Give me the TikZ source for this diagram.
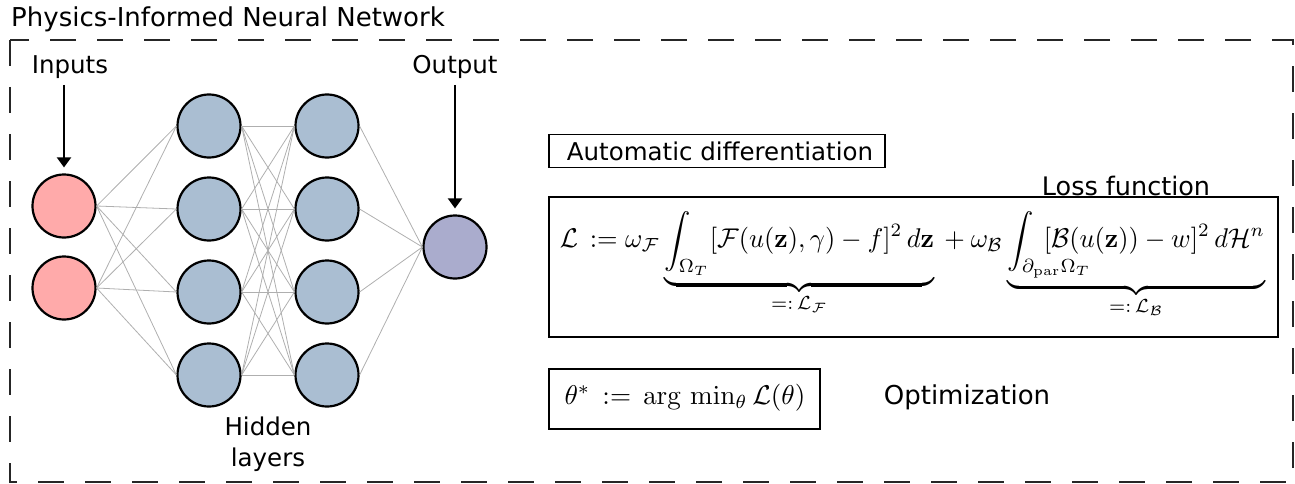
\documentclass[tikz,border=0pt]{standalone}
\usepackage[no-math]{fontspec}
\usepackage{amsmath}
\usepackage{mathtools}
\usepackage{graphicx}
\usetikzlibrary{arrows.meta}
\newfontfamily\dv{DejaVu Sans}
\definecolor{inpink}{RGB}{255,170,170}
\definecolor{hidblue}{RGB}{170,190,210}
\definecolor{outlav}{RGB}{170,172,205}
\definecolor{conngray}{RGB}{175,175,175}
\begin{document}
\begin{tikzpicture}[x=1pt,y=-1pt,
  lbl/.style={font=\dv\fontsize{24.5}{29}\selectfont, inner sep=0pt},
  ttl/.style={font=\dv\fontsize{26}{30}\selectfont, inner sep=0pt},
  neuron/.style={circle, draw=black, line width=2.2pt, minimum size=63pt, inner sep=0pt},
  conn/.style={draw=conngray, line width=0.8pt},
  arr/.style={draw=black, line width=2pt, -{Triangle[length=10pt,width=14pt]}, shorten >=6pt},
  framebox/.style={draw=black, line width=1.6pt, inner sep=0pt},
  outer/.style={draw=black!85, line width=2.2pt, dash pattern=on 26pt off 21pt}
]
\useasboundingbox (0,0) rectangle (1295,484);
% outer dashed frame
\draw[outer] (10,40) rectangle (1293,482);
\node[ttl, anchor=west] (title) at (11,19) {Physics-Informed Neural Network};

% neurons
\node[neuron, fill=inpink] (i1) at (64,206) {};
\node[neuron, fill=inpink] (i2) at (64,288) {};
\foreach \k/\yy in {1/126,2/209,3/292,4/375}{
  \node[neuron, fill=hidblue] (a\k) at (209,\yy) {};
  \node[neuron, fill=hidblue] (b\k) at (327,\yy) {};
}
\node[neuron, fill=outlav] (o) at (455,247) {};

% connections
\foreach \i in {1,2}{\foreach \k in {1,...,4}{\draw[conn] (i\i.east) -- (a\k.west);}}
\foreach \j in {1,...,4}{\foreach \k in {1,...,4}{\draw[conn] (a\j.east) -- (b\k.west);}}
\foreach \k in {1,...,4}{\draw[conn] (b\k.east) -- (o.west);}

% labels and arrows
\node[lbl] (inl) at (70,67) {Inputs};
\node[lbl] (outl) at (455,67) {Output};
\coordinate (inarr) at (64,85);
\coordinate (outarr) at (455,85);
\draw[arr] (inarr) -- (i1.north);
\draw[arr] (outarr) -- (o.north);
\node[lbl, align=center] (hid) at (268,444) {Hidden\\[2pt]layers};

% right side
\node[framebox, minimum width=336pt, minimum height=33pt] (ad) at (717,151) {};
\node[lbl] (adt) at (720,151) {Automatic differentiation};

\node[lbl, font=\dv\fontsize{25.5}{30}\selectfont] (lft) at (1126,186) {Loss function};
\node[framebox, minimum width=729pt, minimum height=140pt] (lossbox) at (913.5,267) {};
\node[inner sep=0pt] (lossf) at (912.5,264.5) {\resizebox*{705pt}{107pt}{$\displaystyle
  \mathcal{L} \,:= \omega_{\mathcal{F}}
  \underbrace{\int_{\Omega_T} [\mathcal{F}(u(\mathbf{z}),\gamma)-f]^2 \, d\mathbf{z}}_{=:\,\mathcal{L}_{\mathcal{F}}}
  {}+{} \omega_{\mathcal{B}}
  \underbrace{\int_{\mathrlap{\partial_{\mathrm{par}}\Omega_T}} \mkern14mu [\mathcal{B}(u(\mathbf{z}))-w]^2 \, d\mathcal{H}^n}_{=:\,\mathcal{L}_{\mathcal{B}}}$}};

\node[framebox, minimum width=271pt, minimum height=60pt] (optbox) at (684.5,399) {};
\node[inner sep=0pt] (optf) at (685,398) {\resizebox{241pt}{!}{$\theta^* \,:=\, \arg\,\min_\theta \mathcal{L}(\theta)$}};
\node[lbl, font=\dv\fontsize{26}{30}\selectfont] (optl) at (967,397) {Optimization};
\end{tikzpicture}
\end{document}
